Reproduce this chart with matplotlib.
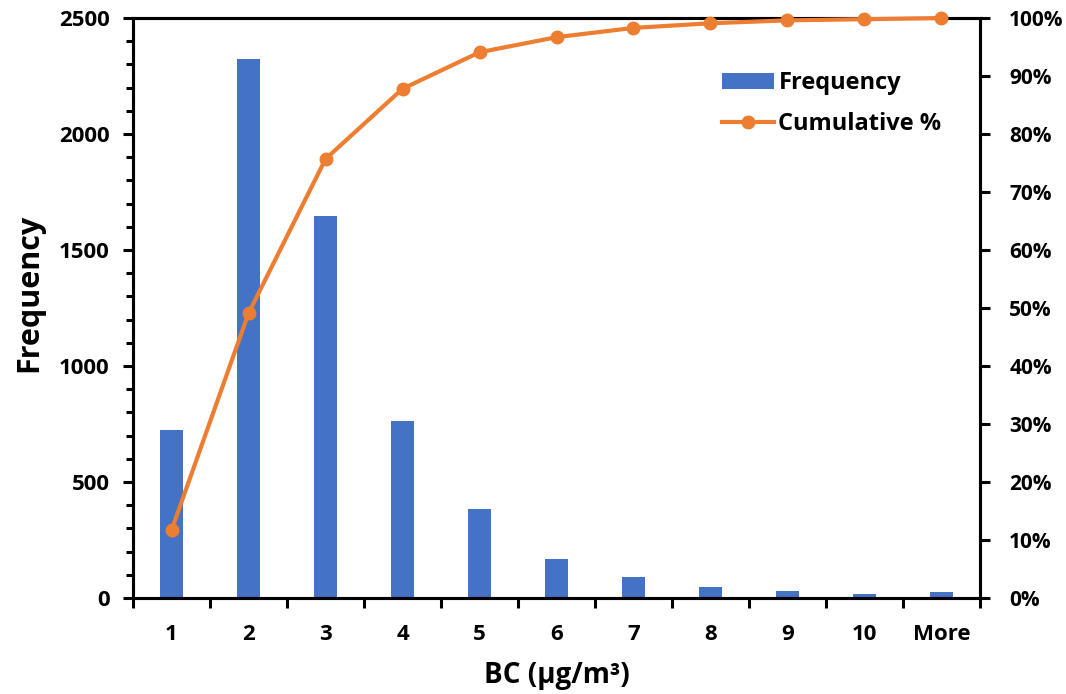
import matplotlib
matplotlib.use("Agg")
import matplotlib.pyplot as plt
from matplotlib.ticker import MultipleLocator, PercentFormatter

# histogram bins of BC concentration and counts per bin
bins = ["1", "2", "3", "4", "5", "6", "7", "8", "9", "10", "More"]
frequency = [724, 2323, 1647, 763, 384, 168, 90, 47, 30, 17, 25]
cumulative_pct = [11.7, 49.1, 75.7, 87.8, 94.1, 96.7, 98.3, 99.1, 99.6, 99.8, 100.0]

plt.rcParams["font.family"] = ["Open Sans", "DejaVu Sans"]
plt.rcParams["font.weight"] = "bold"

bar_color = "#4472C4"
line_color = "#ED7D31"

fig = plt.figure(figsize=(10.66, 6.94), dpi=100)
ax = fig.add_axes([0.1248, 0.1383, 0.7945, 0.8357])
x = list(range(len(bins)))

bars = ax.bar(x, frequency, width=0.3, color=bar_color, label="Frequency", zorder=2)
ax.set_xlim(-0.5, len(bins) - 0.5)
ax.set_ylim(0, 2500)
ax.yaxis.set_major_locator(MultipleLocator(500))
ax.yaxis.set_minor_locator(MultipleLocator(100))

# category ticks sit on bin boundaries, labels in the middle
ax.set_xticks([i - 0.5 for i in range(len(bins) + 1)])
ax.set_xticklabels([])
ax.set_xticks(x, minor=True)
ax.set_xticklabels(bins, minor=True)
ax.tick_params(axis="x", which="minor", length=0, pad=19, labelsize=16)
ax.tick_params(axis="x", which="major", length=7, width=2.2, direction="out")
ax.tick_params(axis="y", which="major", length=7, width=2.2, labelsize=16, pad=10)
ax.tick_params(axis="y", which="minor", length=5, width=2.2)

ax.set_ylabel("Frequency", fontsize=22, fontweight="bold")
ax.yaxis.set_label_coords(-0.105, 0.526)
ax.set_xlabel("BC (µg/m³)", fontsize=20, fontweight="bold", labelpad=11)

ax2 = ax.twinx()
line, = ax2.plot(x, cumulative_pct, color=line_color, lw=3, marker="o",
                 ms=9, label="Cumulative %", clip_on=False, zorder=3)
ax2.set_ylim(0, 100)
ax2.yaxis.set_major_locator(MultipleLocator(10))
ax2.yaxis.set_major_formatter(PercentFormatter(decimals=0))
ax2.tick_params(axis="y", length=7, width=2.2, labelsize=15, pad=14)

for a in (ax, ax2):
    for s in a.spines.values():
        s.set_linewidth(2.2)
        s.set_color("black")

ax2.legend([bars, line], ["Frequency", "Cumulative %"], loc="upper left",
           bbox_to_anchor=(0.67, 0.945), frameon=False, fontsize=17,
           handlelength=2.2, handletextpad=0.2, labelspacing=0.72)

fig.savefig("out.png", dpi=100)
